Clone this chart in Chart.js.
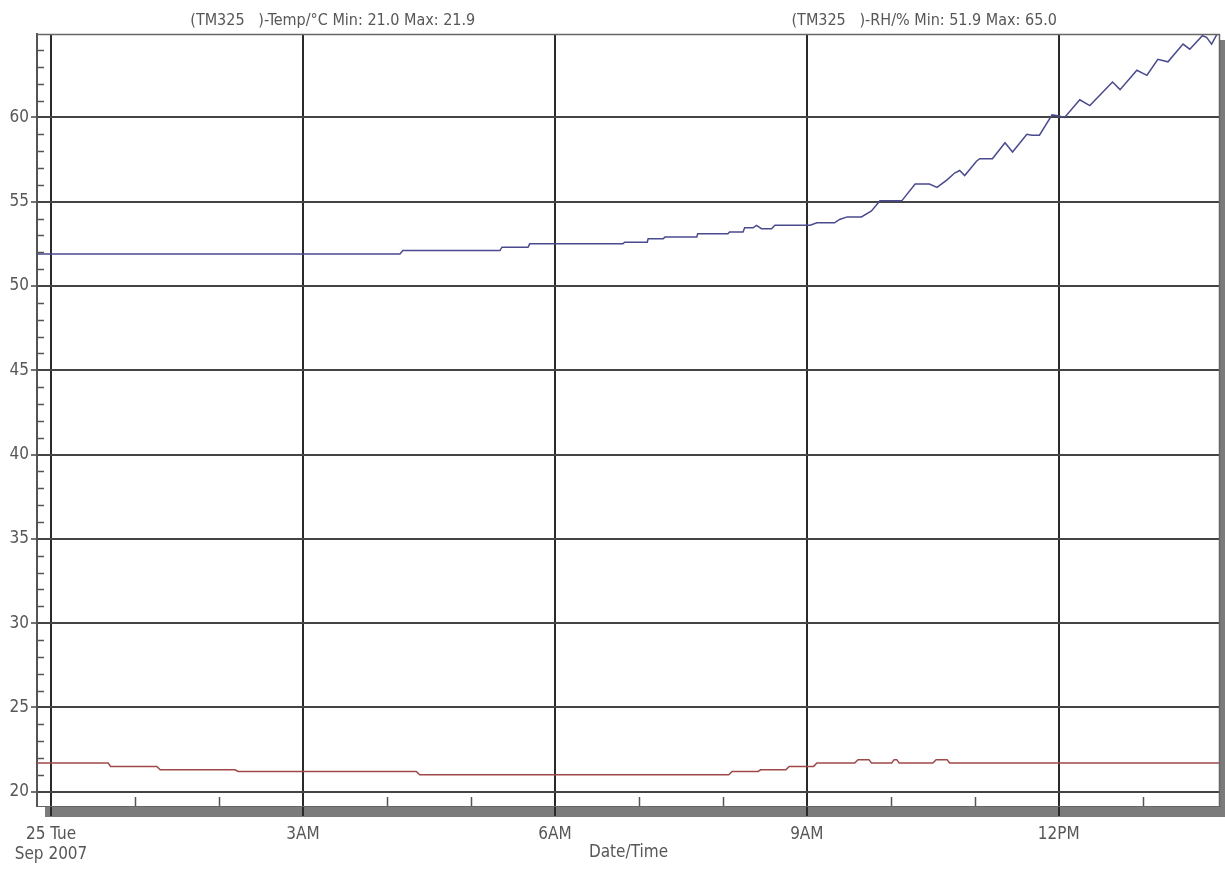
<!DOCTYPE html>
<html><head><meta charset="utf-8">
<script src="https://cdn.jsdelivr.net/npm/chart.js@4.4.0/dist/chart.umd.min.js"></script>
<style>html,body{margin:0;padding:0;background:#fff;overflow:hidden}#wrap{width:1225px;height:871px;position:relative}</style>
</head><body><div id="wrap"><canvas id="c"></canvas></div>
<script>
// ---- data (hours after 25 Tue Sep 2007 00:00) ----
const tempHours  = [-0.167, 0.68, 0.71, 1.26, 1.30, 2.19, 2.23, 4.35, 4.39, 8.07, 8.11, 8.42, 8.45, 8.75, 8.79, 9.08, 9.12, 9.57, 9.61, 9.74, 9.77, 10.01, 10.04, 10.07, 10.10, 10.50, 10.54, 10.67, 10.70, 13.92];
const tempValues = [21.7, 21.7, 21.5, 21.5, 21.3, 21.3, 21.2, 21.2, 21.0, 21.0, 21.2, 21.2, 21.3, 21.3, 21.5, 21.5, 21.7, 21.7, 21.9, 21.9, 21.7, 21.7, 21.9, 21.9, 21.7, 21.7, 21.9, 21.9, 21.7, 21.7];

const rhHours  = [-0.167, 4.155, 4.19, 5.345, 5.37, 5.68, 5.70, 6.81, 6.83, 7.10, 7.11, 7.29, 7.31, 7.69, 7.70, 8.06, 8.08, 8.24, 8.26, 8.36, 8.40, 8.46, 8.58, 8.62, 9.04, 9.12, 9.33, 9.39, 9.48, 9.65, 9.77, 9.87, 10.13, 10.29, 10.46, 10.55, 10.67, 10.76, 10.82, 10.88, 11.02, 11.06, 11.21, 11.36, 11.45, 11.62, 11.68, 11.77, 11.92, 11.99, 12.07, 12.25, 12.37, 12.64, 12.73, 12.93, 13.05, 13.18, 13.30, 13.48, 13.56, 13.71, 13.76, 13.82, 13.88, 13.92];
const rhValues = [51.9, 51.9, 52.1, 52.1, 52.3, 52.3, 52.5, 52.5, 52.6, 52.6, 52.8, 52.8, 52.9, 52.9, 53.1, 53.1, 53.2, 53.2, 53.45, 53.45, 53.6, 53.4, 53.4, 53.6, 53.6, 53.75, 53.75, 53.95, 54.1, 54.1, 54.45, 55.05, 55.05, 56.05, 56.05, 55.85, 56.3, 56.7, 56.85, 56.55, 57.4, 57.55, 57.55, 58.5, 57.95, 59.0, 58.95, 58.95, 60.15, 60.1, 60.0, 61.05, 60.7, 62.1, 61.65, 62.8, 62.5, 63.45, 63.3, 64.35, 64.05, 64.85, 64.75, 64.35, 64.9, 65.0];

const xTickHours = [0,1,2,3,4,5,6,7,8,9,10,11,12,13];
const xTickLabels = {0: ['25 Tue', 'Sep 2007'], 3: '3AM', 6: '6AM', 9: '9AM', 12: '12PM'};
const yTickValues = [20,25,30,35,40,45,50,55,60];
const headerTexts = ['(TM325   )-Temp/°C Min: 21.0 Max: 21.9', '(TM325   )-RH/% Min: 51.9 Max: 65.0'];
const xAxisTitle = 'Date/Time';
const xRange = [-0.167, 13.92];
const yRange = [19.15, 64.95];

const FONT = "'DejaVu Sans Condensed', 'Liberation Sans', sans-serif";
const TXT = '#575757';
const TRANSP = 'rgba(0,0,0,0)';

const decor = {
  id: 'decor',
  beforeDraw(chart) {
    const {ctx, chartArea: a} = chart;
    ctx.save();
    ctx.fillStyle = '#fff';
    ctx.fillRect(0, 0, chart.width, chart.height);
    ctx.fillStyle = '#7b7b7b';
    ctx.fillRect(a.left + 8, a.bottom, chart.width - (a.left + 8), 11);
    ctx.fillRect(a.right, a.top + 6, chart.width - a.right, a.bottom - a.top + 5);
    ctx.restore();
  },
  afterDraw(chart) {
    const {ctx, chartArea: a, scales} = chart;
    ctx.save();
    ctx.strokeStyle = '#666';
    ctx.lineWidth = 1.5;
    ctx.beginPath();
    ctx.moveTo(a.left, a.top + 0.5); ctx.lineTo(a.right, a.top + 0.5);
    ctx.moveTo(a.right - 0.5, a.top); ctx.lineTo(a.right - 0.5, a.bottom);
    ctx.stroke();
    ctx.strokeStyle = '#555';
    ctx.lineWidth = 1.5;
    ctx.beginPath();
    for (let v = Math.ceil(yRange[0]); v <= yRange[1]; v++) {
      if (v % 5 === 0) continue;
      const y = Math.round(scales.y.getPixelForValue(v)) + 0.5;
      ctx.moveTo(a.left, y); ctx.lineTo(a.left + 7, y);
    }
    xTickHours.forEach(h => {
      if (h % 3 === 0) return;
      const x = Math.round(scales.x.getPixelForValue(h)) + 0.5;
      ctx.moveTo(x, a.bottom - 9); ctx.lineTo(x, a.bottom);
    });
    ctx.stroke();
    ctx.fillStyle = TXT;
    ctx.font = '16px ' + FONT;
    ctx.textAlign = 'center';
    ctx.textBaseline = 'middle';
    const mid = (a.left + a.right) / 2;
    ctx.fillText(headerTexts[0], (a.left + mid) / 2, 21);
    ctx.fillText(headerTexts[1], (mid + a.right) / 2, 21);
    ctx.restore();
  }
};

new Chart(document.getElementById('c'), {
  type: 'line',
  data: {
    datasets: [
      {
        label: 'Temp',
        data: tempHours.map((h, i) => ({x: h, y: tempValues[i]})),
        borderColor: '#a04848',
        borderWidth: 1.5,
        pointRadius: 0,
        tension: 0,
        fill: false
      },
      {
        label: 'RH',
        data: rhHours.map((h, i) => ({x: h, y: rhValues[i]})),
        borderColor: '#4a4a8e',
        borderWidth: 1.5,
        pointRadius: 0,
        tension: 0,
        fill: false
      }
    ]
  },
  options: {
    responsive: true,
    maintainAspectRatio: false,
    animation: false,
    devicePixelRatio: 1,
    layout: {padding: {top: 34, right: 5, left: 0, bottom: 0}},
    plugins: {legend: {display: false}, tooltip: {enabled: false}},
    scales: {
      x: {
        type: 'linear',
        position: 'bottom',
        min: xRange[0],
        max: xRange[1],
        afterBuildTicks: s => { s.ticks = xTickHours.map(v => ({value: v})); },
        afterFit: s => { s.height = 65; },
        ticks: {
          autoSkip: false, maxRotation: 0, minRotation: 0,
          font: {family: FONT, size: 17, lineHeight: 1.15},
          color: TXT,
          padding: 9,
          callback: v => (xTickLabels[v] !== undefined ? xTickLabels[v] : '')
        },
        grid: {
          color: c => (c.tick && c.tick.value % 3 === 0 ? '#2a2a2a' : TRANSP),
          lineWidth: 2,
          drawTicks: true,
          tickLength: 10,
          tickColor: c => (c.tick && c.tick.value % 3 === 0 ? '#2a2a2a' : TRANSP),
          tickWidth: 2
        },
        border: {display: true, color: '#666', width: 1},
        title: {display: true, text: xAxisTitle, color: TXT, font: {family: FONT, size: 17, lineHeight: 1.2}, padding: {top: 0, bottom: 8}}
      },
      y: {
        type: 'linear',
        min: yRange[0],
        max: yRange[1],
        afterBuildTicks: s => {
          const t = [];
          for (let v = Math.ceil(yRange[0]); v <= yRange[1]; v++) t.push({value: v});
          s.ticks = t;
        },
        afterFit: s => { s.width = 37; },
        ticks: {
          autoSkip: false,
          font: {family: FONT, size: 17},
          color: TXT,
          padding: 2,
          callback: v => (yTickValues.includes(v) ? String(v) : '')
        },
        grid: {
          color: c => (c.tick && c.tick.value % 5 === 0 ? '#444' : TRANSP),
          lineWidth: 2,
          drawTicks: true,
          tickLength: 6,
          tickColor: c => (c.tick && c.tick.value % 5 === 0 ? '#444' : TRANSP),
          tickWidth: 1.5
        },
        border: {display: true, color: '#555', width: 2}
      }
    }
  },
  plugins: [decor]
});
</script>
</body></html>
